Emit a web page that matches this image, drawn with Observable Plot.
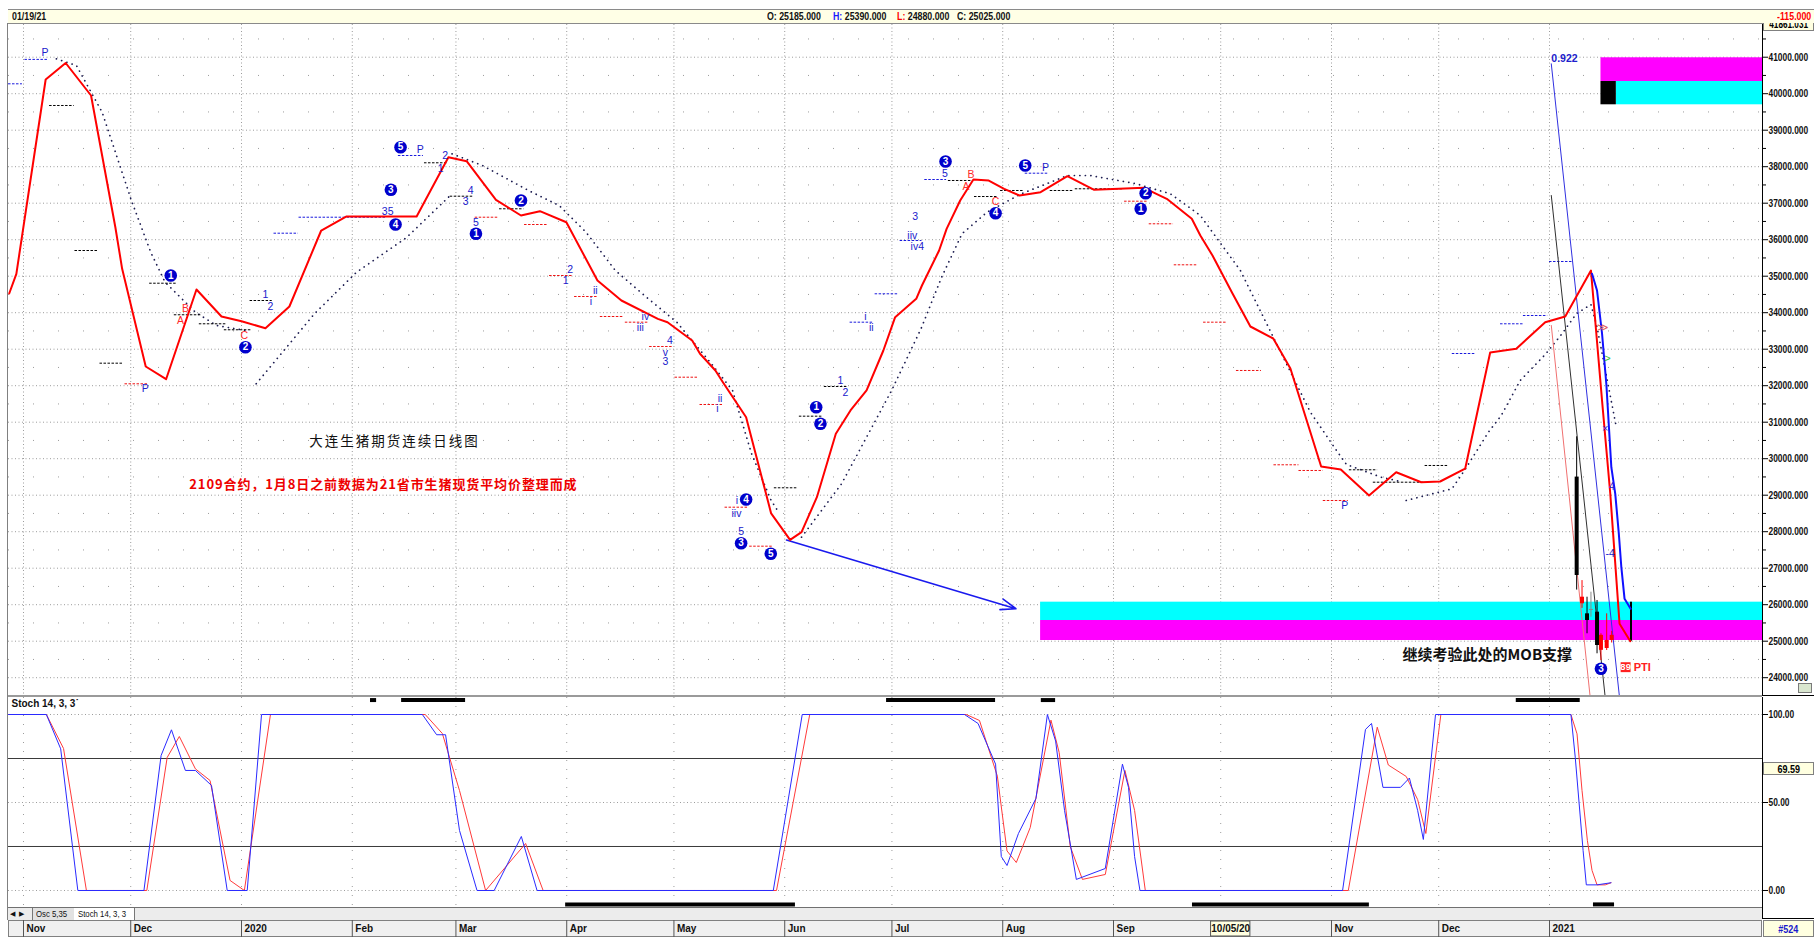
<!DOCTYPE html>
<html>
<head>
<meta charset="utf-8">
<script src="https://cdn.jsdelivr.net/npm/d3@7"></script>
<script src="https://cdn.jsdelivr.net/npm/@observablehq/plot@0.6"></script>
<style>
html,body{margin:0;padding:0;background:#fff;}
body{width:1814px;height:938px;position:relative;overflow:hidden;font-family:"Liberation Sans",Arial,sans-serif;}
.a{position:absolute;}
.hdr{left:8px;top:9px;width:1806px;height:13px;background:#ffffe6;border-top:1px solid #8a8a8a;border-bottom:1px solid #8a8a8a;font-size:11px;font-weight:bold;line-height:13px;color:#111;}
.hdr .s{position:absolute;top:0;white-space:nowrap;transform:scaleX(.8);transform-origin:0 0;}
.tabs{left:8px;top:907px;width:1754px;height:12px;background:#ececec;border-top:1px solid #707070;font-size:9.5px;line-height:12px;color:#111;}
.tabs .s{position:absolute;top:0;white-space:nowrap;}
.datebar{left:8px;top:920px;width:1754px;height:17px;background:#f0f0f0;border:1px solid #808080;box-sizing:border-box;}
.ybox{background:#ffffe0;border:1px solid #808080;box-sizing:border-box;text-align:center;font-weight:bold;font-size:11px;}
.cx{display:inline-block;transform:scaleX(.82);}
</style>
</head>
<body>
<div class="a hdr">
  <span class="s" style="left:4px">01/19/21</span>
  <span class="s" style="left:759px">O: 25185.000</span>
  <span class="s" style="left:825px"><span style="color:#1a1aff">H:</span> 25390.000</span>
  <span class="s" style="left:889px"><span style="color:#ff0000">L:</span> 24880.000</span>
  <span class="s" style="left:949px">C: 25025.000</span>
  <span class="s" style="left:1769px;color:#ff0000">-115.000</span>
</div>
<div class="a" style="left:7px;top:23px;width:1px;height:897px;background:#808080"></div>
<div id="main" class="a" style="left:0;top:24px"></div>
<div class="a ybox" style="left:1763px;top:23px;width:51px;height:8px;overflow:hidden;font-size:10px;line-height:4px;border-top:none"><span class="cx">41861.031</span></div>
<div class="a" style="left:8px;top:695px;width:1754px;height:2px;background:#9a9a9a"></div>
<div class="a" style="left:1762px;top:695px;width:52px;height:1px;background:#000"></div>
<div class="a" style="left:1798px;top:683px;width:14px;height:10px;background:#d9e6cf;border:1px solid #7a7a7a;box-sizing:border-box"></div>
<div id="stoch" class="a" style="left:0;top:697px"></div>
<div class="a ybox" style="left:1763px;top:762px;width:51px;height:13px;line-height:12px"><span class="cx">69.59</span></div>
<div class="a tabs">
  <span class="s" style="left:2px;font-size:7px">&#9664;</span>
  <span class="s" style="left:11px;font-size:7px">&#9654;</span>
  <span class="s" style="left:24px;padding:0 3px;border-left:1px solid #777;border-right:1px solid #777;background:#e2e2e2"><span class="cx" style="transform-origin:0 0">Osc 5,35</span></span>
  <span class="s" style="left:66px;padding:0 4px;border-right:1px solid #777;background:#fff;width:52px;overflow:hidden"><span class="cx" style="transform-origin:0 0">Stoch 14, 3, 3</span></span>
</div>
<div class="a" style="left:1762px;top:697px;width:1px;height:222px;background:#000"></div>
<div class="a" style="left:1762px;top:918px;width:52px;height:1px;background:#000"></div>
<div class="a datebar"></div>
<div id="dates" class="a" style="left:0;top:920px"></div>
<div class="a ybox" style="left:1763px;top:920px;width:51px;height:17px;line-height:16px;color:#1a1acc"><span class="cx">#524</span></div>

<script>
// ---------- time base: x values are days counted from 2019-11-01 ----------
const BASE = Date.UTC(2019, 10, 1);
const DAY = 86400000;
const T = d => new Date(BASE + d * DAY);
const X_DOMAIN = [T(-4.2), T(486.6)];
const Y_DOMAIN = [23512, 41896];
const STOCH_DOMAIN = [-9.66, 109.66];

// ---------- month ticks ----------
const monthStarts = ["2019-11-01","2019-12-01","2020-01-01","2020-02-01","2020-03-01","2020-04-01","2020-05-01","2020-06-01","2020-07-01","2020-08-01","2020-09-01","2020-10-01","2020-11-01","2020-12-01","2021-01-01"];
const monthLabels = ["Nov","Dec","2020","Feb","Mar","Apr","May","Jun","Jul","Aug","Sep","","Nov","Dec","2021"];
const cursorLabel = {from: 332.3, to: 343.3, text: "10/05/20"};

// ---------- main price line (red) ----------
const redDays = [-4,-2,6.2,11.8,18.9,25.7,27.6,34.2,39.9,48.4,55.4,61,67.7,74.4,83.3,90.4,110,118.9,124,132.2,139.2,144.5,151.9,160.6,167.3,177.5,180.2,187.1,189.3,193.6,195.7,202.2,209.2,214.5,217.7,222,227.3,231.4,235.9,240.6,243.9,249.8,251.4,256.2,258.3,262.1,265.8,270.1,274.4,278.7,284.6,292.1,299.6,313.5,319.9,326.9,329.3,332.7,338.3,343.3,349.7,354.5,363.1,368.6,376.5,384.1,391.1,396.4,403.4,410.4,417.7,425.8,431.4,438.6,441.7,444,446.6,449.6];
const redVals = [34526,35066,40389,40841,39951,36342,35203,32526,32178,34636,33896,33767,33575,34170,36252,36636,36636,38260,38150,37093,36663,36781,36479,34882,34334,33832,33740,33238,32874,32416,32096,31137,28500,27777,27987,28945,30682,31321,31869,32964,33877,34381,34745,35704,36297,37074,37649,37621,37393,37210,37302,37740,37366,37420,37120,36572,36115,35567,34526,33622,33293,32471,29786,29704,28991,29630,29356,29375,29726,32910,33010,33740,33896,35156,31595,29047,25477,25000];

// ---------- blue line at the end ----------
const blueDays = [438.9,440.3,441.7,442.9,444.3,445.4,446.4,447.1,448,449.7];
const blueVals = [35066,34608,33430,32052,29767,29038,27942,27027,26162,25888];

// ---------- dotted indicator, in segments [day, value] ----------
const dotA = [[9.2,40956],[14.8,40773],[22.0,39493],[30.2,37074],[35.6,35658],[39.6,34836],[48.1,34014],[54.0,33650],[62.1,33513]];
const dotB = [[65.1,32052],[81.4,33970],[93.2,35110],[107.1,36052],[119.4,37211]];
const dotC = [[119.9,38353],[128.4,38033],[141.3,37348],[149.9,36937],[157.4,36206],[165.6,35157],[174.3,34425],[182.8,33740],[192.5,32600],[198.4,31869],[203.7,30143],[209.2,28855],[211.0,28581]];
const dotD = [[217.7,27849],[228.9,29312],[242.9,31868],[251.2,33575],[256.9,34973],[262.6,36162],[269.6,36753],[279.2,37258],[292.1,37759],[298.5,37759],[311.4,37531],[320.9,37258],[327.4,36800],[329.3,36663],[340.5,35156],[360.1,31274],[367.4,30225],[370.2,29841],[379.9,29493],[385.3,29375]];
const dotE = [[386.9,28855],[399.7,29175],[403.5,29723],[409.9,30726],[413.5,31184],[418.8,32142],[425.8,32855],[430.5,33422],[434.5,33970],[438.6,34225],[440.3,33603],[445.7,30863]];

// ---------- short horizontal levels [fromDay, toDay, value] ----------
const levelsBlack = [[7.3,14.2,39677],[14.4,20.9,35704],[21.4,27.8,32617],[35.3,42.8,34808],[42.2,49.8,33943],[49.2,56.7,33696],[56.2,63.7,33532],[63.4,69.6,34334],[112.2,118.9,38107],[119.4,125.8,37192],[133.2,140,36847],[210.1,216.6,29203],[217.1,223.6,31165],[224.1,230.6,31978],[258.8,265.8,37622],[266.1,272.5,37183],[273.4,279.8,37348],[287.3,293.7,37348],[294.3,300.6,37395],[301.2,307.6,37395],[371,378.9,29696],[377.7,391.7,29356],[392.2,398.7,29814]];
const levelsBlue = [[0.4,6.7,40940],[-4.2,-0.3,40271],[70.1,76.9,36178],[77.1,101.7,36616],[104.9,111.9,38307],[231.3,237.7,33740],[238.3,245,34518],[245.3,251.4,35978],[252.2,258.3,37649],[280.3,286.7,37822],[399.8,406.5,32882],[413.3,419.7,33696],[419.7,426.5,33923],[427,433.4,35403]];
const levelsRed = [[28.4,34.8,32052],[126.4,132.8,36616],[140.2,146.6,36416],[147.2,153.6,35019],[154.2,160.6,34444],[161.4,167.9,33896],[168.4,174.9,33740],[175.2,181.8,33074],[182.3,188.7,32233],[189.3,195.7,31485],[196.3,202.7,28671],[203.2,209.7,27603],[308.1,314.5,37055],[315,321.8,36436],[322,328.5,35312],[330.2,336.6,33740],[339.4,346.4,32417],[349.9,356.9,29833],[356.9,363.7,29677],[363.7,370.7,28855]];

// ---------- daily futures candles ----------
const candleDays  = [434.6,436.1,437.5,438.6,440.3,441.4,443.0,444.4];
const candleOpen  = [29496,26025,25750,25840,25795,24750,24800,25020];
const candleHigh  = [30600,26660,26205,26342,26115,25203,25750,25270];
const candleLow   = [26400,25900,25203,25658,24655,24470,24745,24950];
const candleClose = [26800,26205,25567,25840,24882,25160,25020,25160];
const lastBar = {day: 449.8, high: 26068, low: 25000};

// ---------- steep trend lines [day, value] ----------
const trendBlue  = [[427.5,40819],[446.6,23450]];
const trendBlack = [[427.5,37211],[442.6,23450]];
const trendRed   = [[427.5,33650],[438.4,23450]];

// ---------- zones [fromDay, toDay, low, high] ----------
const zoneCyanLow   = [284.6,486.6,25567,26069];
const zoneMagLow    = [284.6,486.6,25019,25567];
const zoneMagHigh   = [441.4,486.6,40334,40984];
const zoneCyanHigh  = [445.7,486.6,39696,40334];
const zoneBlackHigh = [441.4,445.7,39696,40334];

// ---------- arrow [fromDay, fromValue, toDay, toValue] ----------
const arrowLine = [213.5,27771,277.7,25890];

// ---------- wave labels [day, value, text] ----------
const circleLabels = [[41.2,35020,"1"],[62.1,33055,"2"],[102.8,37367,"3"],[104.1,36416,"4"],[105.5,38534,"5"],[126.6,36162,"1"],[139.2,37074,"2"],[202.2,28882,"4"],[200.8,27685,"3"],[209.1,27395,"5"],[221.8,31411,"1"],[223,30956,"2"],[258,38142,"3"],[272,36726,"4"],[280.3,38033,"5"],[314,37274,"2"],[312.6,36847,"1"],[441.4,24244,"3"]];
const blueLabels = [[6.0,41121,"P"],[34.1,31915,"P"],[67.7,34499,"1"],[69.1,34178,"2"],[101.9,36781,"35"],[111,38471,"P"],[118,38307,"2"],[116.7,37942,"1"],[125.1,37348,"4"],[123.7,37055,"3"],[126.6,36479,"5"],[153,35184,"2"],[151.7,34883,"1"],[160,34609,"ii"],[158.8,34307,"i"],[174,33896,"iv"],[172.6,33586,"iii"],[180.9,33238,"4"],[179.6,32918,"v"],[179.6,32671,"3"],[194.9,31649,"ii"],[194.2,31375,"i"],[199.6,28855,"i"],[199.5,28490,"iiv"],[200.8,28014,"5"],[228.6,32143,"1"],[230,31822,"2"],[235.6,33896,"i"],[237.2,33586,"ii"],[249.5,36644,"3"],[248.7,36115,"iiv"],[250.1,35814,"iv4"],[257.8,37822,"5"],[286,37986,"P"],[369.7,28718,"P"],[444.5,29238,"4"],[444,27411,"-4"]];
const redLabels = [[45.3,34107,"B"],[43.9,33786,"A"],[61.8,33375,"C"],[265.1,37786,"B"],[263.7,37458,"A"],[272,37055,"C"]];
const fibLabel = [427.5,40964,"0.922"];
const ptiLabel = [448.3,24288,"89","PTI"];
const marks2 = [[442.1,33603,"≫"],[443.2,32753,">"],[442.6,30836,"×"]];

// ---------- annotations ----------
const titleText = [103.8,30462,"大连生猪期货连续日线图"];
const noteText  = [100.7,29293,"2109合约，1月8日之前数据为21省市生猪现货平均价整理而成"];
const mobText   = [409.6,24609,"继续考验此处的MOB支撑"];

// ---------- price axis ----------
const priceTicks = d3.range(24000, 41001, 1000);
const priceHalfTicks = d3.range(24500, 41501, 1000);

// ---------- stochastic (14,3,3) ----------
const kDays = [-4.2,6.4,10.4,15.2,33.7,38.5,41.4,45.3,48.1,52.6,57,62.6,66.6,111.6,115.6,118.1,122,126.9,131.7,139.3,143.7,209.8,217.9,263.3,267.1,272,273.6,275.2,278.4,283.3,286.5,288.8,291.3,294.6,302.7,307.5,309.2,310.9,312.4,369.1,375.5,377.2,380.4,385.3,387.8,390.1,391.7,395.1,433,434.2,436.4,437.3,440.3,444.2];
const kVals = [100,100,80.5,0,0,76.7,91.3,68.2,68.2,59.7,0,0,100,100,88.5,88.5,34.1,0,0,30.7,0,0,100,100,94.9,71.8,19.3,14.2,32.4,52.3,100,84.9,45.5,6.3,12.5,71.8,58.6,19.3,0,0,91.5,94.9,58.6,58.6,63.9,45.5,29,100,100,75.7,22.7,3.2,3.2,4.4];
const dDays = [-4.2,6.4,11.2,17.6,34.5,40.2,43.6,48.1,52.2,57.8,61.8,69.1,112.4,117.2,122,129.3,140.5,145.4,210.7,220,263.8,267.5,272.5,275.2,277.8,281.7,287.5,289.8,292.9,296.3,302.7,308.2,310.9,313.9,370.7,378.8,381.9,386.9,390.1,392.4,396.6,433,434.7,436.1,437.6,438.9,440.3,442.6,444.2];
const dVals = [100,100,80.7,0,0,75.6,87.5,69.1,62.5,5.7,0,100,100,89.2,56.8,0,26.7,0,0,100,100,96.6,65,22.5,15.9,35.8,96.8,78.4,25,6.3,9.1,68.2,45.5,0,0,92.8,71.3,64.8,51.7,32.4,100,100,89,56.8,28.4,11.4,3.2,3.2,4.4];
const stochLevels = [25, 75];
const stochTicks = [0, 50, 100];
const signalTop = [[97.1,98.8],[105.8,123.7],[241.5,272],[284.8,288.8],[417.7,435.6]];
const signalBottom = [[151.7,216],[327.1,376.6],[439.3,445.2]];

// ---------- build ----------
const SANS = '"Liberation Sans",Arial,sans-serif';
const CJK = '"Noto Sans CJK SC",sans-serif';
const pts = (days, vals) => days.map((d, i) => ({x: T(d), y: vals[i]}));
const segPts = segs => segs.flatMap((s, k) => s.map(([d, v]) => ({x: T(d), y: v, k})));
const lbl = arr => arr.map(([d, v, t]) => ({x: T(d), y: v, t}));
const levelMark = (arr, color) => Plot.ruleY(arr, {x1: d => T(d[0]), x2: d => T(d[1]), y: d => d[2], stroke: color, strokeWidth: 1, strokeDasharray: "2.5,1.5"});
const zone = (z, color) => Plot.rect([z], {x1: d => T(d[0]), x2: d => T(d[1]), y1: d => d[2], y2: d => d[3], fill: color});
const line2 = (arr, color, w) => Plot.line(arr.map(([d, v]) => ({x: T(d), y: v})), {x: "x", y: "y", stroke: color, strokeWidth: w, clip: true});
// narrow the glyphs horizontally around each text's own anchor (chart font is a condensed face)
const condense = (svg, sel, ratio) => d3.select(svg).selectAll(sel).each(function() {
  const x = +(this.getAttribute("x") || 0);
  const tr = this.getAttribute("transform") || "";
  this.setAttribute("transform", `${tr} translate(${x},0) scale(${ratio},1) translate(${-x},0)`);
});

const candles = candleDays.map((d, i) => ({x: T(d), o: candleOpen[i], h: candleHigh[i], l: candleLow[i], c: candleClose[i]}));
const cColor = d => d.c > d.o ? "#ff0000" : d.c < d.o ? "#000000" : "#8a8a8a";

const mainPlot = Plot.plot({
  width: 1814, height: 671,
  marginLeft: 8, marginRight: 52, marginTop: 0, marginBottom: 0,
  style: {fontFamily: SANS, fontSize: "10px", overflow: "visible", background: "transparent"},
  x: {type: "utc", domain: X_DOMAIN, axis: null},
  y: {domain: Y_DOMAIN, axis: null},
  color: {type: "identity"},
  marks: [
    Plot.ruleY(priceTicks, {stroke: "#9c9c9c", strokeDasharray: "1,2.5"}),
    Plot.ruleY(priceHalfTicks, {stroke: "#9c9c9c", strokeDasharray: "1,24"}),
    Plot.ruleX(monthStarts.map(s => new Date(s)), {stroke: "#9c9c9c", strokeDasharray: "1,2.5"}),
    zone(zoneCyanLow, "#00ffff"), zone(zoneMagLow, "#ff00ff"),
    zone(zoneMagHigh, "#ff00ff"), zone(zoneCyanHigh, "#00ffff"), zone(zoneBlackHigh, "#000000"),
    Plot.line(segPts([dotA, dotB, dotC, dotD, dotE]), {x: "x", y: "y", z: "k", stroke: "#1c1c50", strokeWidth: 1.7, strokeDasharray: "0.1,5.4", strokeLinecap: "round"}),
    levelMark(levelsBlack, "#000000"), levelMark(levelsBlue, "#1a1add"), levelMark(levelsRed, "#ee1111"),
    line2(trendRed, "#f07070", 1), line2(trendBlack, "#303030", 1), line2(trendBlue, "#3030e0", 1),
    Plot.arrow([arrowLine], {x1: d => T(d[0]), y1: d => d[1], x2: d => T(d[2]), y2: d => d[3], stroke: "#1a1aee", strokeWidth: 1.6, headLength: 15, headAngle: 40}),
    Plot.ruleX(candles, {x: "x", y1: "l", y2: "h", stroke: cColor, strokeWidth: 1}),
    Plot.ruleX(candles, {x: "x", y1: "o", y2: d => d.o === d.c ? d.o + 30 : d.c, stroke: cColor, strokeWidth: 4}),
    Plot.ruleX([lastBar], {x: d => T(d.day), y1: "low", y2: "high", stroke: "#000", strokeWidth: 2}),
    Plot.line(pts(redDays, redVals), {x: "x", y: "y", stroke: "#ff0000", strokeWidth: 2}),
    Plot.line(pts(blueDays, blueVals), {x: "x", y: "y", stroke: "#1010ff", strokeWidth: 2}),
    Plot.text(lbl(marks2), {x: "x", y: "y", text: "t", fill: (d) => d.t === ">" ? "#30c030" : d.t === "×" ? "#3030e0" : "#e06060", fontSize: 11}),
    Plot.text(lbl(blueLabels), {x: "x", y: "y", text: "t", fill: "#2020cc", fontSize: 10.5}),
    Plot.text(lbl(redLabels), {x: "x", y: "y", text: "t", fill: "#ff2a2a", fontSize: 10.5}),
    Plot.text([fibLabel], {x: d => T(d[0]), y: d => d[1], text: d => d[2], fill: "#2020cc", fontSize: 10.5, fontWeight: "bold", textAnchor: "start"}),
    Plot.dot(lbl(circleLabels), {x: "x", y: "y", r: 6.3, fill: "#0000cc"}),
    Plot.text(lbl(circleLabels), {x: "x", y: "y", text: "t", fill: "#ffffff", fontSize: 10, fontWeight: "bold"}),
    Plot.dot([ptiLabel], {x: d => T(d[0]), y: d => d[1], symbol: "square", r: 5.6, fill: "#ff2020"}),
    Plot.text([ptiLabel], {x: d => T(d[0]), y: d => d[1], text: d => d[2], fill: "#fff", fontSize: 9.5, fontWeight: "bold"}),
    Plot.text([ptiLabel], {x: d => T(d[0]), y: d => d[1], text: d => d[3], fill: "#ff2020", fontSize: 11, fontWeight: "bold", textAnchor: "start", dx: 8}),
    Plot.text([titleText], {x: d => T(d[0]), y: d => d[1], text: d => d[2], fill: "#111", fontSize: 13.5, fontFamily: CJK}),
    Plot.text([noteText], {x: d => T(d[0]), y: d => d[1], text: d => d[2], fill: "#ee0000", fontSize: 13, fontWeight: "bold", fontFamily: CJK}),
    Plot.text([mobText], {x: d => T(d[0]), y: d => d[1], text: d => d[2], fill: "#111", fontSize: 15, fontWeight: "bold", fontFamily: CJK}),
    Plot.ruleX([X_DOMAIN[1]], {stroke: "#000", strokeWidth: 1}),
    Plot.axisY({anchor: "right", label: null, ticks: priceHalfTicks.filter(v => v < 41896), tickSize: 3, tickFormat: () => "", stroke: "#000"}),
    Plot.axisY({anchor: "right", label: null, ticks: priceTicks, tickSize: 5, tickPadding: 1, tickFormat: d => d.toFixed(3), fontSize: 10.5, fontWeight: "bold", fill: "#111"})
  ]
});
d3.select(mainPlot).selectAll("text").each(function() {
  if (this.textContent === titleText[2]) this.setAttribute("letter-spacing", "2");
  if (this.textContent === noteText[2]) this.setAttribute("letter-spacing", "0.9");
});
document.getElementById("main").appendChild(mainPlot);
condense(mainPlot, 'g[aria-label="y-axis tick label"] text', 0.8);

const stochPlot = Plot.plot({
  width: 1814, height: 210,
  marginLeft: 8, marginRight: 52, marginTop: 0, marginBottom: 0,
  style: {fontFamily: SANS, fontSize: "10px", overflow: "visible", background: "transparent"},
  x: {type: "utc", domain: X_DOMAIN, axis: null},
  y: {domain: STOCH_DOMAIN, axis: null},
  marks: [
    Plot.ruleX(monthStarts.map(s => new Date(s)), {stroke: "#9c9c9c", strokeDasharray: "1,8"}),
    Plot.ruleY(stochTicks, {stroke: "#9c9c9c", strokeDasharray: "1,2.5"}),
    Plot.ruleY(stochLevels, {stroke: "#3a3a3a", strokeWidth: 1}),
    Plot.line(pts(dDays, dVals), {x: "x", y: "y", stroke: "#ff3a3a", strokeWidth: 1}),
    Plot.line(pts(kDays, kVals), {x: "x", y: "y", stroke: "#2a2aff", strokeWidth: 1}),
    Plot.ruleY(signalTop, {x1: d => T(d[0]), x2: d => T(d[1]), y: () => 108.2, stroke: "#000", strokeWidth: 4}),
    Plot.ruleY(signalBottom, {x1: d => T(d[0]), x2: d => T(d[1]), y: () => -7.9, stroke: "#000", strokeWidth: 4}),
    Plot.text(["Stoch 14, 3, 3\u02D9"], {frameAnchor: "top-left", dx: 3, dy: 2, fontSize: 10, fontWeight: "bold", fill: "#111", textAnchor: "start", lineAnchor: "top", ariaLabel: "stoch-title"}),
    Plot.axisY({anchor: "right", label: null, ticks: stochTicks, tickSize: 5, tickPadding: 1, tickFormat: d => d.toFixed(2), fontSize: 10.5, fontWeight: "bold", fill: "#111"})
  ]
});
document.getElementById("stoch").appendChild(stochPlot);
condense(stochPlot, 'g[aria-label="y-axis tick label"] text', 0.8);
condense(stochPlot, 'g[aria-label="stoch-title"] text', 0.8);

const monthItems = monthStarts.map((s, i) => ({x: new Date(s), t: monthLabels[i]}));
const datePlot = Plot.plot({
  width: 1814, height: 17,
  marginLeft: 8, marginRight: 52, marginTop: 0, marginBottom: 0,
  style: {fontFamily: SANS, fontSize: "10px", overflow: "visible", background: "transparent"},
  x: {type: "utc", domain: X_DOMAIN, axis: null},
  marks: [
    Plot.tickX(monthItems.filter(d => d.t), {x: "x", stroke: "#555", strokeWidth: 1}),
    Plot.rect([cursorLabel], {x1: d => T(d.from), x2: d => T(d.to), fill: "#ffffe0", stroke: "#555", insetTop: 1, insetBottom: 1}),
    Plot.text([cursorLabel], {x: d => T((d.from + d.to) / 2), text: "text", fontSize: 10, fontWeight: "bold", fill: "#111", ariaLabel: "cursor-label"}),
    Plot.text(monthItems.filter(d => d.t), {x: "x", text: "t", dx: 3, textAnchor: "start", fontSize: 10, fontWeight: "bold", fill: "#111", ariaLabel: "month-label"})
  ]
});
document.getElementById("dates").appendChild(datePlot);
condense(datePlot, 'g[aria-label="month-label"] text', 0.82);
condense(datePlot, 'g[aria-label="cursor-label"] text', 0.82);
</script>
</body>
</html>
